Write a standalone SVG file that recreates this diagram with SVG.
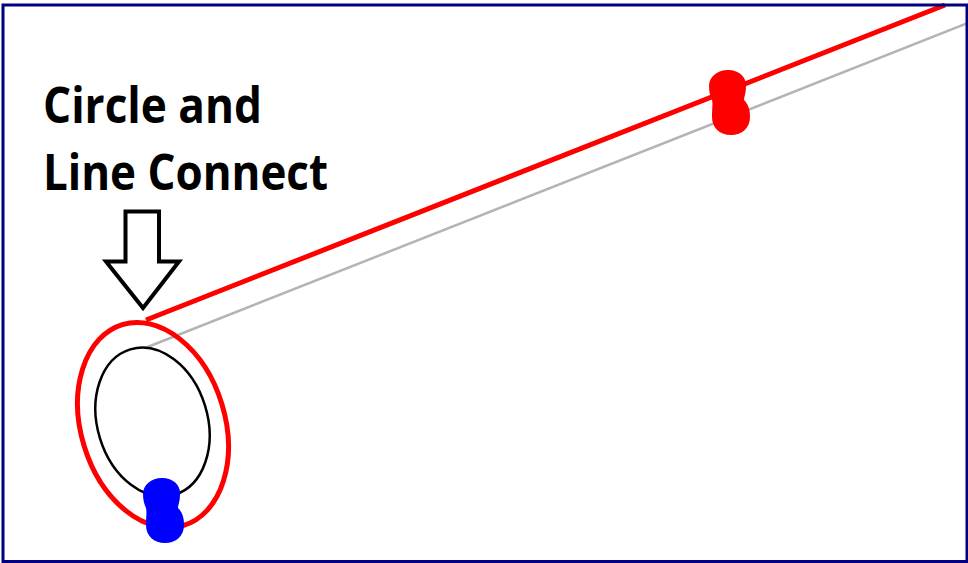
<svg xmlns="http://www.w3.org/2000/svg" width="968" height="563" viewBox="0 0 968 563">
<style>
.lbl{font-family:"Open Sans","Liberation Sans",sans-serif;font-weight:bold;font-size:50px;fill:#000}
.red{fill:none;stroke:#ff0000;stroke-width:5}
.gray{fill:none;stroke:#b4b4b4;stroke-width:2.5}
.blk{fill:none;stroke:#000;stroke-width:2.5}
</style>
<defs>
<path id="peanut" d="M162,478 C174,478 181,486 180,495 C180,501 178,505 178,508 C182,512 184,517 184,525 C184,536 176,543 165,543 C154,543 146,536 146,525 C146,517 147,512 146,508 C144,504 143,499 143,494 C143,485 151,478 162,478 Z"/>
</defs>
<rect x="0" y="0" width="968" height="563" fill="#fff"/>
<g id="connectors">
<line class="red" x1="146" y1="320" x2="945" y2="5"/>
<line class="gray" x1="145" y1="348" x2="968" y2="23"/>
</g>
<g id="outer-circle">
<ellipse class="red" cx="153" cy="425" rx="72" ry="105" transform="rotate(-17 153 425)"/>
</g>
<g id="inner-circle">
<ellipse class="blk" cx="152.5" cy="422" rx="55" ry="76" transform="rotate(-17 152.5 422)"/>
</g>
<g id="label">
<text class="lbl" x="43" y="123" textLength="219" lengthAdjust="spacingAndGlyphs">Circle and</text>
<text class="lbl" x="43" y="190" textLength="285" lengthAdjust="spacingAndGlyphs">Line Connect</text>
</g>
<g id="arrow">
<polygon points="125.5,211.5 159,211.5 159,261.5 179,261.5 143,308 106,261.5 125.5,261.5" fill="#fff" stroke="#000" stroke-width="4" stroke-linejoin="miter"/>
</g>
<g id="blue-dot">
<use href="#peanut" fill="#0000ff"/>
</g>
<g id="red-dot">
<use href="#peanut" fill="#ff0000" transform="translate(566,-408)"/>
</g>
<rect x="3" y="5" width="964" height="556.5" fill="none" stroke="#000080" stroke-width="3"/>
</svg>
